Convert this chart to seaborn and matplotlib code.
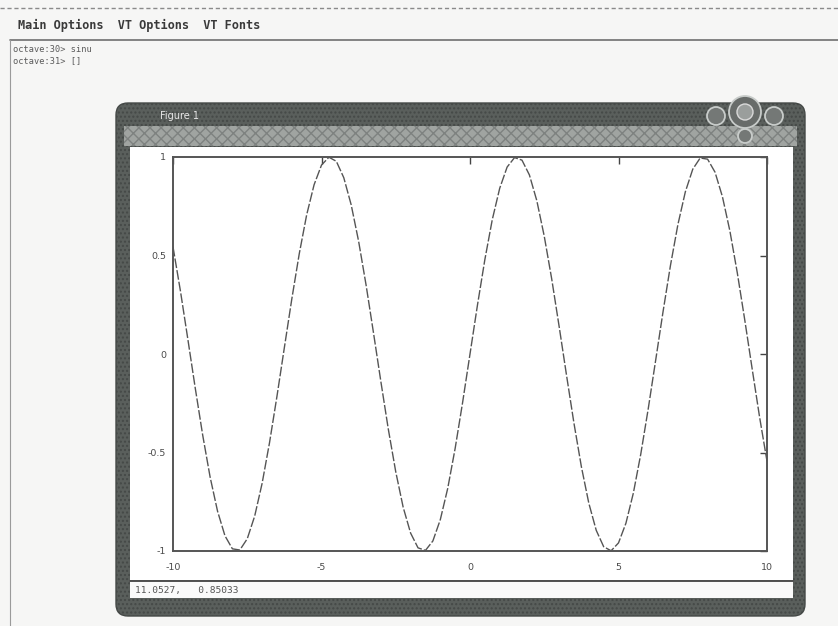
import numpy as np
import pandas as pd
import matplotlib
matplotlib.use("Agg")
import matplotlib.pyplot as plt
from matplotlib.patches import FancyBboxPatch, Rectangle, Circle
import seaborn as sns

# Sampled sine curve shown in the figure window
x_values = np.linspace(-10, 10, 81)
y_values = [
    0.544, 0.320, 0.075, -0.174, -0.412, -0.625, -0.798, -0.923, -0.989, -0.995,
    -0.938, -0.823, -0.657, -0.450, -0.215, 0.033, 0.279, 0.508, 0.706, 0.859,
    0.959, 0.999, 0.978, 0.895, 0.757, 0.572, 0.351, 0.108, -0.141, -0.382,
    -0.598, -0.778, -0.909, -0.984, -0.997, -0.949, -0.841, -0.682, -0.479, -0.247,
    0.0,
    0.247, 0.479, 0.682, 0.841, 0.949, 0.997, 0.984, 0.909, 0.778, 0.598,
    0.382, 0.141, -0.108, -0.351, -0.572, -0.757, -0.895, -0.978, -0.999, -0.959,
    -0.859, -0.706, -0.508, -0.279, -0.033, 0.215, 0.450, 0.657, 0.823, 0.938,
    0.995, 0.989, 0.923, 0.798, 0.625, 0.412, 0.174, -0.075, -0.320, -0.544,
]
x_ticks = [-10, -5, 0, 5, 10]
x_tick_labels = ["-10", "-5", "0", "5", "10"]
y_ticks = [-1, -0.5, 0, 0.5, 1]
y_tick_labels = ["-1", "-0.5", "0", "0.5", "1"]

menu_text = "Main Options  VT Options  VT Fonts"
prompt_lines = ["octave:30> sinu", "octave:31> []"]
window_title = "Figure 1"
status_text = "11.0527,   0.85033"

df = pd.DataFrame({"x": x_values, "y": y_values})

sns.set_theme(style="white")
W, H = 838, 626
fig = plt.figure(figsize=(W / 100, H / 100), dpi=100)
fig.patch.set_facecolor("#f6f6f5")

# Desktop / terminal layer in pixel coordinates
bg = fig.add_axes([0, 0, 1, 1])
bg.set_xlim(0, W)
bg.set_ylim(H, 0)
bg.axis("off")

# terminal chrome
bg.plot([0, W], [8, 8], color="#8a8a8a", lw=1.0, ls=(0, (3, 2)))
bg.plot([10, W], [40, 40], color="#6f6f6f", lw=1.2)
bg.plot([10, 10], [40, H], color="#9a9a9a", lw=0.8)
bg.text(18, 25, menu_text, fontsize=8.6, family="DejaVu Sans Mono",
        fontweight="bold", color="#3a3a3a", va="center", ha="left")
for i, line in enumerate(prompt_lines):
    bg.text(13, 50 + i * 11, line, fontsize=6.2, family="DejaVu Sans Mono",
            color="#5a5a5a", va="center", ha="left")

# figure window frame
frame_dark = "#5a5f5c"
bg.add_patch(FancyBboxPatch((116, 103), 689, 513,
                            boxstyle="round,pad=0,rounding_size=12",
                            facecolor=frame_dark, edgecolor="#454947", lw=1.0,
                            hatch="....", zorder=1))
# lighter textured band under the title bar
bg.add_patch(Rectangle((124, 126), 673, 20, facecolor="#a0a4a1",
                       edgecolor="#7e8280", lw=0, hatch="xxx", zorder=2))
bg.text(160, 116, window_title, fontsize=7, color="#e6e6e6",
        va="center", ha="left", zorder=3)

# title bar buttons
for (cx, cy, r, fc) in [(716, 116, 9, "#747876"), (774, 116, 9, "#747876"),
                        (745, 112, 16, "#686c6a"), (745, 136, 7, "#747876")]:
    bg.add_patch(Circle((cx, cy), r, facecolor=fc, edgecolor="#c8ccca",
                        lw=1.3, zorder=3))
bg.add_patch(Circle((745, 112), 8, facecolor="#9a9e9c", edgecolor="#dadada",
                    lw=1.0, zorder=4))

# white client area and status bar
bg.add_patch(Rectangle((130, 147), 663, 433, facecolor="white",
                       edgecolor="none", zorder=2))
bg.add_patch(Rectangle((130, 581), 663, 17, facecolor="#fafafa",
                       edgecolor="none", zorder=2))
bg.plot([130, 793], [581, 581], color="#505050", lw=1.4, zorder=3)
bg.text(135, 590, status_text, fontsize=6.8, color="#555555",
        family="DejaVu Sans Mono", va="center", ha="left", zorder=3)

# plot axes
left, right, top, bottom = 173, 767, 157, 551
ax = fig.add_axes([left / W, 1 - bottom / H, (right - left) / W, (bottom - top) / H])
ax.set_facecolor("white")
sns.lineplot(data=df, x="x", y="y", ax=ax, color="#555555", lw=1.0,
             linestyle=(0, (7, 1.5)))
ax.set_xlim(-10, 10)
ax.set_ylim(-1, 1)
ax.set_xticks(x_ticks)
ax.set_xticklabels(x_tick_labels)
ax.set_yticks(y_ticks)
ax.set_yticklabels(y_tick_labels)
ax.set_xlabel("")
ax.set_ylabel("")
ax.tick_params(direction="in", length=5, width=1.0, color="#444444",
               top=True, right=True, labelsize=6.8, labelcolor="#4a4a4a")
ax.tick_params(axis="x", pad=9)
ax.tick_params(axis="y", pad=5)
for sp in ax.spines.values():
    sp.set_color("#555555")
    sp.set_linewidth(1.4)

fig.savefig("out.png", dpi=100, facecolor=fig.get_facecolor())
